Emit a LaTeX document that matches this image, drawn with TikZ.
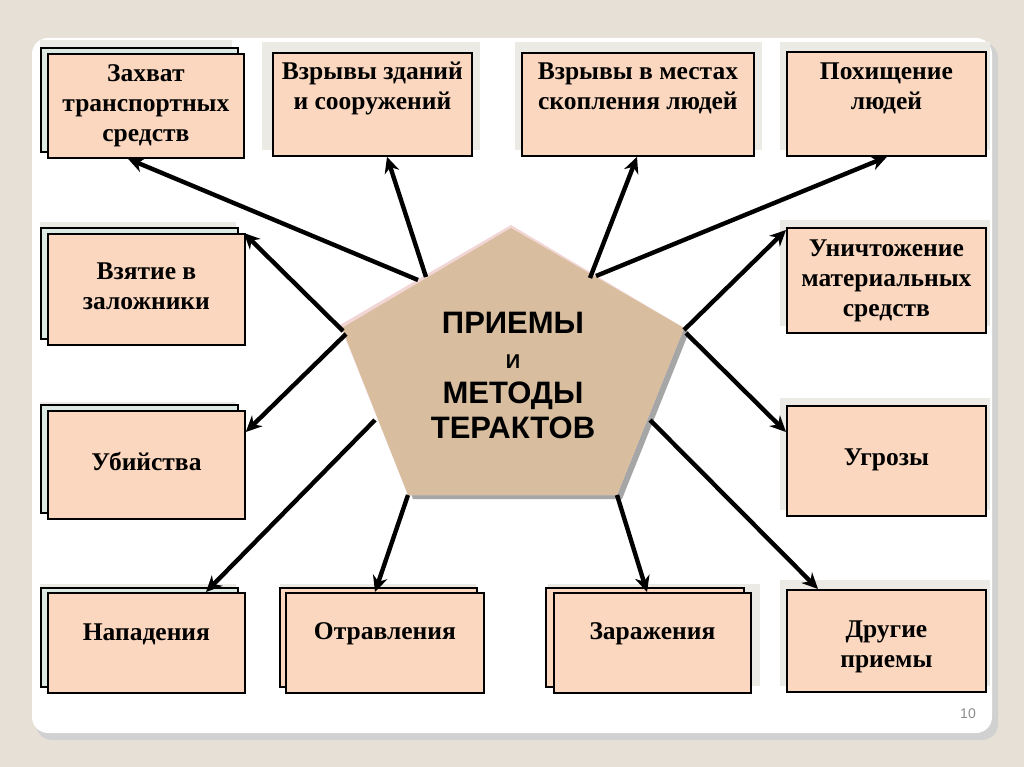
\documentclass[tikz,border=0pt]{standalone}
\usepackage{fontspec}
\setmainfont{Liberation Serif}
\newfontfamily\headfont{Liberation Sans}
\usetikzlibrary{arrows.meta}
\definecolor{bgc}{HTML}{E6E0D7}
\definecolor{peach}{HTML}{FAD7BE}
\definecolor{backc}{HTML}{DDEAE4}
\definecolor{tan}{HTML}{D8BE9E}
\definecolor{shade}{HTML}{ECEAE5}
\definecolor{pinkedge}{HTML}{F2D6D6}
\tikzset{
  box/.style={draw=black, line width=1.8pt, fill=peach, inner sep=0pt, anchor=north west},
  lbl/.style={align=center, inner sep=0pt, font=\bfseries\fontsize{25.5}{30}\selectfont},
  backbox/.style={draw=black, line width=1.5pt, fill=backc},
  shadowbox/.style={fill=shade},
  arr/.style={line width=4.4pt, -{Stealth[length=16pt,width=15pt]}},
}
\begin{document}
\begin{tikzpicture}[x=1pt,y=-1pt]
\useasboundingbox (0,0) rectangle (1024,767);
\fill[bgc] (0,0) rectangle (1024,767);
% panel
\fill[black!18,rounded corners=16pt] (36,42) rectangle (998,740);
\fill[white,rounded corners=16pt] (32,38) rectangle (992,733);
\node[text=black!45,font=\headfont\fontsize{14}{16}\selectfont] (pg) at (968,714) {10};
% shadows
\foreach \a/\b/\c/\d in {262/42/480/150, 515/42/762/150, 780/42/990/150, 780/220/990/326, 780/398/990/510, 780/580/990/686, 40/40/232/150, 40/222/236/338, 40/402/236/512, 40/584/236/686, 280/584/476/686, 548/584/760/686}
  \fill[shadowbox] (\a,\b) rectangle (\c,\d);
% back layers
\draw[backbox] (41,48) rectangle (238,152);
\draw[backbox] (41,228) rectangle (238,339);
\draw[backbox] (41,405) rectangle (238,513);
\draw[backbox] (41,588) rectangle (238,687);
\draw[backbox, fill=peach] (280,588) rectangle (477,687);
\draw[backbox, fill=peach] (546,588) rectangle (744,687);
% boxes
\node[box, minimum width=196pt, minimum height=104pt] (zahvat) at (47,53) {};
\node[lbl] (tzahvat) at (zahvat.center) {Захват\\транспортных\\средств};
\node[box, minimum width=199pt, minimum height=103pt] (zdan) at (272,52) {};
\node[lbl] (tzdan) at ([yshift=16pt]zdan.center) {Взрывы зданий\\и сооружений};
\node[box, minimum width=232pt, minimum height=103pt] (mest) at (521,52) {};
\node[lbl] (tmest) at ([yshift=16pt]mest.center) {Взрывы в местах\\скопления людей};
\node[box, minimum width=199pt, minimum height=104pt] (poh) at (786,51) {};
\node[lbl] (tpoh) at ([yshift=16pt]poh.center) {Похищение\\людей};
\node[box, minimum width=197pt, minimum height=111pt] (zal) at (47,233) {};
\node[lbl] (tzal) at ([yshift=3pt]zal.center) {Взятие в\\заложники};
\node[box, minimum width=199pt, minimum height=105pt] (unich) at (786,227) {};
\node[lbl] (tunich) at (unich.center) {Уничтожение\\материальных\\средств};
\node[box, minimum width=197pt, minimum height=108pt] (ub) at (47,410) {};
\node[lbl] (tub) at ([yshift=3pt]ub.center) {Убийства};
\node[box, minimum width=199pt, minimum height=110pt] (ugr) at (786,405) {};
\node[lbl] (tugr) at ([yshift=1pt]ugr.center) {Угрозы};
\node[box, minimum width=197pt, minimum height=100pt] (nap) at (47,592) {};
\node[lbl] (tnap) at ([yshift=9pt]nap.center) {Нападения};
\node[box, minimum width=198pt, minimum height=100pt] (otr) at (285,592) {};
\node[lbl] (totr) at ([yshift=9pt]otr.center) {Отравления};
\node[box, minimum width=197pt, minimum height=100pt] (zar) at (553,592) {};
\node[lbl] (tzar) at ([yshift=9pt]zar.center) {Заражения};
\node[box, minimum width=199pt, minimum height=102pt] (dr) at (786,589) {};
\node[lbl] (tdr) at ([yshift=-6pt]dr.center) {Другие\\приемы};
% pentagon
\coordinate (pt) at (511,228);
\coordinate (pul) at (342,328);
\coordinate (pur) at (684,328);
\coordinate (pll) at (408,495);
\coordinate (plr) at (617,495);
\fill[black!35] ([shift={(5,4)}]pt) -- ([shift={(5,4)}]pur) -- ([shift={(5,4)}]plr) -- ([shift={(5,4)}]pll) -- ([shift={(5,4)}]pul) -- cycle;
\fill[pinkedge] ([shift={(0,-3)}]pt) -- (pur) -- (plr) -- (pll) -- ([shift={(-2,-3)}]pul) -- cycle;
\fill[tan] (pt) -- (pur) -- (plr) -- (pll) -- (pul) -- cycle;
\node[font=\headfont\bfseries\fontsize{31}{35}\selectfont, align=center] (center) at (513,375)
  {ПРИЕМЫ\\{\fontsize{20}{35}\selectfont И}\\МЕТОДЫ\\ТЕРАКТОВ};
% arrow start points on pentagon
\coordinate (s1) at (418,280);
\coordinate (s2) at (426,277);
\coordinate (s3) at (590,278);
\coordinate (s4) at (596,276);
\coordinate (s5) at (343,331);
\coordinate (s6) at (346,334);
\coordinate (s7) at (684,330);
\coordinate (s8) at (686,333);
\coordinate (s9) at (375,420);
\coordinate (s10) at (408,495);
\coordinate (s11) at (617,495);
\coordinate (s12) at (650,420);
% arrows
\draw[arr] (s1) -- ([xshift=81pt]zahvat.south west);
\draw[arr] (s2) -- ([xshift=115pt]zdan.south west);
\draw[arr] (s3) -- ([xshift=116pt]mest.south west);
\draw[arr] (s4) -- ([xshift=101pt]poh.south west);
\draw[arr] (s5) -- ([xshift=-2pt]zal.north east);
\draw[arr] (s6) -- ([yshift=-22pt]ub.north east);
\draw[arr] (s7) -- ([yshift=-3pt]unich.north west);
\draw[arr] (s8) -- ([yshift=-27pt]ugr.north west);
\draw[arr] (s9) -- ([xshift=159pt]nap.north west);
\draw[arr] (s10) -- ([xshift=90pt]otr.north west);
\draw[arr] (s11) -- ([xshift=94pt]zar.north west);
\draw[arr] (s12) -- ([xshift=32pt]dr.north west);
\end{tikzpicture}
\end{document}
